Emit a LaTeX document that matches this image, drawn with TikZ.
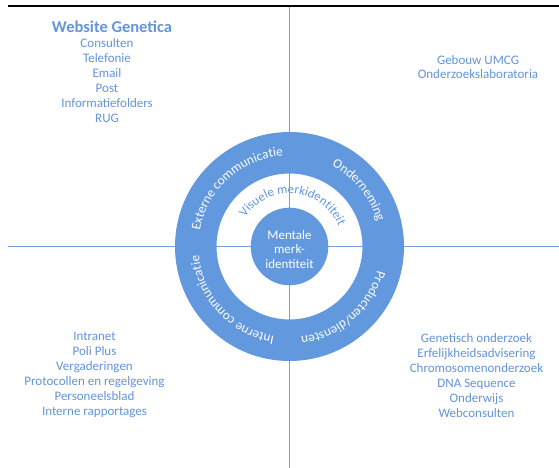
\documentclass[tikz,border=0pt]{standalone}
\usepackage{fontspec}
\setmainfont{Carlito}
\usetikzlibrary{decorations.text,calc}
\definecolor{ringblue}{RGB}{98,152,222}
\definecolor{textblue}{RGB}{100,148,218}
\definecolor{gridblue}{RGB}{120,160,224}
\newcommand\ringfont{\fontsize{13.2}{15}\selectfont}
\newcommand\innerfont{\fontsize{12.8}{15}\selectfont}
\begin{document}
\begin{tikzpicture}[x=1pt,y=1pt,
  gridline/.style={draw=gridblue, line width=1.2pt},
  listtext/.style={text=textblue, align=center, inner sep=0pt,
    font=\fontsize{13}{15}\selectfont},
  titletext/.style={text=textblue, inner sep=0pt,
    font=\fontsize{16.5}{18}\selectfont\bfseries},
  ringlabel/.style={decorate, decoration={text along path, text align=center,
    text color=white, text={|\ringfont|#1}}},
  innerlabel/.style={decorate, decoration={text along path, text align=center,
    text color=ringblue, text={|\innerfont|#1}}}]
\useasboundingbox (0,0) rectangle (559,468);
\fill[white] (0,0) rectangle (559,468);

% frame line and quadrant axes
\coordinate (c) at (289.5,221.5);
\coordinate (tl) at (8,462);
\coordinate (tr) at (559,462);
\coordinate (hl) at (8,221.5);
\coordinate (hr) at (559,221.5);
\coordinate (vt) at (289.5,461);
\coordinate (vb) at (289.5,0);
\draw[line width=2.5pt] (tl) -- (tr);
\draw[gridline] (hl) -- (hr);
\draw[gridline] (vt) -- (vb);

% rings
\fill[ringblue, even odd rule] (c) circle (114.5) (c) circle (73);
\fill[ringblue] (c) circle (38.8);
\node[text=white, align=center, inner sep=0pt, font=\fontsize{13}{14.5}\selectfont]
  (core) at ($(c)+(0,-3)$) {Mentale\\merk-\\identiteit};

% curved labels
\path[ringlabel={Externe communicatie}] ($(c)+(192:91)$) arc[start angle=192, end angle=72, radius=91];
\path[ringlabel={Onderneming}] ($(c)+(99:91)$) arc[start angle=99, end angle=-21, radius=91];
\path[ringlabel={Producten/diensten}] ($(c)+(11:91)$) arc[start angle=11, end angle=-109, radius=91];
\path[ringlabel={Interne communicatie}] ($(c)+(-77:91)$) arc[start angle=-77, end angle=-197, radius=91];
\path[innerlabel={Visuele merkidentiteit}] ($(c)+(164.5:53)$) arc[start angle=164.5, end angle=4.5, radius=53];

% quadrant texts
\node[titletext] (title) at (112,441) {Website Genetica};
\node[listtext] (tlist) at (107,387.7) {Consulten\\Telefonie\\Email\\Post\\Informatiefolders\\RUG};
\node[listtext, font=\fontsize{13}{13.5}\selectfont] (trlist) at (478,401) {Gebouw UMCG\\Onderzoekslaboratoria};
\node[listtext] (bllist) at (94.5,92.7) {Intranet\\Poli Plus\\Vergaderingen\\Protocollen en regelgeving\\Personeelsblad\\Interne rapportages};
\node[listtext] (brlist) at (476.5,92.7) {Genetisch onderzoek\\Erfelijkheidsadvisering\\Chromosomenonderzoek\\DNA Sequence\\Onderwijs\\Webconsulten};
\end{tikzpicture}
\end{document}
